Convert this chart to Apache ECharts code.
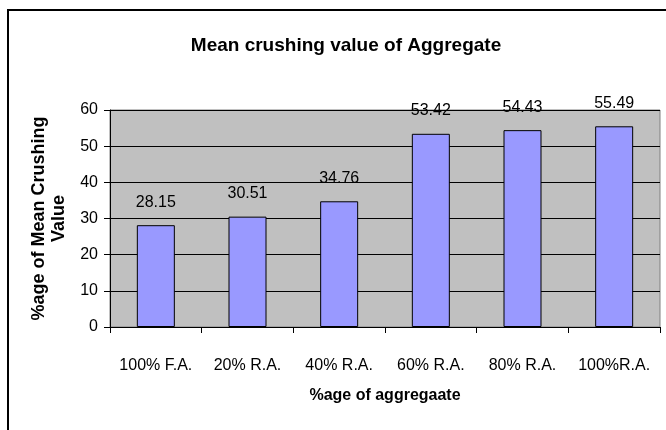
<!DOCTYPE html>
<html>
<head>
<meta charset="utf-8">
<script src="https://cdn.jsdelivr.net/npm/echarts@6/dist/echarts.min.js"></script>
<style>
  html, body { margin: 0; padding: 0; background: #fff; }
  #main { width: 666px; height: 430px; }
</style>
</head>
<body>
<div id="main"></div>
<script>
// mean crushing value per mix
var categories = ['100% F.A.', '20% R.A.', '40% R.A.', '60% R.A.', '80% R.A.', '100%R.A.'];
var crushValues = [28.15, 30.51, 34.76, 53.42, 54.43, 55.49];

var font = "'Liberation Sans', Arial, sans-serif";

var chart = echarts.init(document.getElementById('main'), null, { renderer: 'canvas' });

var option = {
  backgroundColor: '#fff',
  animation: false,
  title: {
    text: 'Mean crushing value of Aggregate',
    left: 341,
    top: 31,
    textAlign: 'center',
    textStyle: {
      fontFamily: font,
      fontWeight: 'bold',
      fontSize: 19,
      color: '#000'
    }
  },
  graphic: [{
    type: 'rect',
    shape: { x: 8, y: 10, width: 700, height: 500 },
    style: { fill: 'none', stroke: '#000', lineWidth: 2 },
    silent: true
  }],
  grid: {
    left: 110,
    top: 110,
    right: 6,
    bottom: 103,
    show: true,
    backgroundColor: '#C0C0C0',
    borderColor: '#808080',
    borderWidth: 1
  },
  xAxis: {
    type: 'category',
    data: categories,
    name: '%age of aggregaate',
    nameLocation: 'middle',
    nameGap: 61,
    nameTextStyle: {
      fontFamily: font,
      fontWeight: 'bold',
      fontSize: 16,
      color: '#000'
    },
    axisLine: { lineStyle: { color: '#000', width: 1 } },
    axisTick: { show: true, length: 6, inside: false, lineStyle: { color: '#000' } },
    axisLabel: {
      interval: 0,
      fontFamily: font,
      fontSize: 16,
      color: '#000',
      margin: 31
    }
  },
  yAxis: {
    type: 'value',
    min: 0,
    max: 60,
    interval: 10,
    name: '%age of Mean Crushing\nValue',
    nameLocation: 'middle',
    nameRotate: 90,
    nameGap: 34,
    nameTextStyle: {
      fontFamily: font,
      fontWeight: 'bold',
      fontSize: 18,
      lineHeight: 20,
      color: '#000'
    },
    axisLine: { show: true, lineStyle: { color: '#000', width: 1 } },
    axisTick: { show: true, length: 6, lineStyle: { color: '#000' } },
    axisLabel: {
      fontFamily: font,
      fontSize: 16,
      color: '#000',
      margin: 12
    },
    splitLine: { show: true, lineStyle: { color: '#000', width: 1 } }
  },
  series: [{
    name: 'Crushing',
    type: 'bar',
    data: crushValues,
    barWidth: 38,
    itemStyle: {
      color: '#9999FF',
      borderColor: '#000',
      borderWidth: 1
    },
    label: {
      show: true,
      position: 'top',
      distance: 15,
      fontFamily: font,
      fontSize: 16,
      color: '#000'
    }
  }]
};

chart.setOption(option);
</script>
</body>
</html>
